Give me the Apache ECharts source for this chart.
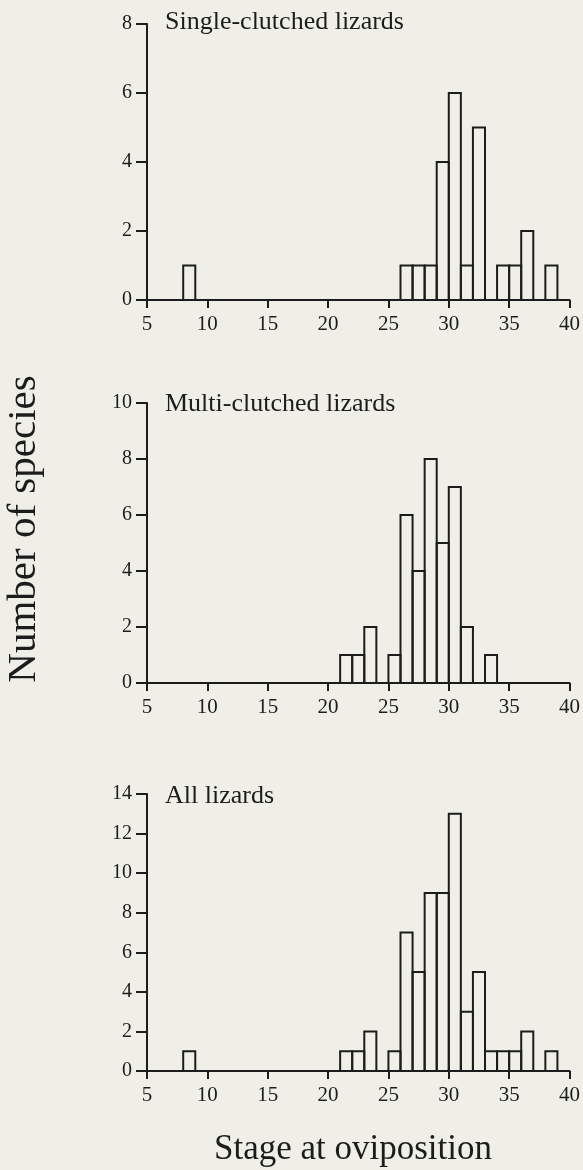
<!DOCTYPE html>
<html>
<head>
<meta charset="utf-8">
<title>Stage at oviposition</title>
<script src="https://cdn.jsdelivr.net/npm/echarts@6/dist/echarts.min.js"></script>
<style>
  html, body { margin: 0; padding: 0; background: #efefe8; }
  #chart { width: 583px; height: 1170px; }
</style>
</head>
<body>
<div id="chart"></div>
<script>
// bin start (stage) and number of species; each bin is 1 stage wide
const singleBins = [8, 26, 27, 28, 29, 30, 31, 32, 34, 35, 36, 38];
const singleCounts = [1, 1, 1, 1, 4, 6, 1, 5, 1, 1, 2, 1];

const multiBins = [21, 22, 23, 25, 26, 27, 28, 29, 30, 31, 33];
const multiCounts = [1, 1, 2, 1, 6, 4, 8, 5, 7, 2, 1];

const allBins = [8, 21, 22, 23, 25, 26, 27, 28, 29, 30, 31, 32, 33, 34, 35, 36, 38];
const allCounts = [1, 1, 1, 2, 1, 7, 5, 9, 9, 13, 3, 5, 1, 1, 1, 2, 1];

const panelTitles = ["Single-clutched lizards", "Multi-clutched lizards", "All lizards"];
const yMax = [8, 10, 14];
const xMin = 5, xMax = 40, xStep = 5;

const ink = "#1c1c1c";
const serif = '"Liberation Serif", "Times New Roman", serif';

// pixel layout of the three panels
const panels = [
  { top: 24, height: 276, titleY: 24 },
  { top: 403, height: 280, titleY: 406 },
  { top: 794, height: 277, titleY: 798 },
];

const chart = echarts.init(document.getElementById("chart"));

function histItem(params, api) {
  const start = api.value(0);
  const count = api.value(1);
  const p0 = api.coord([start, 0]);
  const p1 = api.coord([start + 1, count]);
  return {
    type: "rect",
    shape: { x: p0[0], y: p1[1], width: p1[0] - p0[0], height: p0[1] - p1[1] },
    style: { fill: "transparent", stroke: ink, lineWidth: 2 },
  };
}

const series = [
  [singleBins, singleCounts],
  [multiBins, multiCounts],
  [allBins, allCounts],
].map(([bins, counts], i) => ({
  type: "custom",
  xAxisIndex: i,
  yAxisIndex: i,
  renderItem: histItem,
  encode: { x: 0, y: 1 },
  data: bins.map((b, j) => [b, counts[j]]),
}));

const option = {
  backgroundColor: "#efefe8",
  animation: false,
  grid: panels.map((p) => ({
    left: 147,
    right: 13,
    top: p.top,
    height: p.height,
    containLabel: false,
  })),
  xAxis: panels.map((p, i) => ({
    type: "value",
    gridIndex: i,
    min: xMin,
    max: xMax,
    interval: xStep,
    axisLine: { show: true, lineStyle: { color: ink, width: 2 } },
    axisTick: { show: true, length: 8, lineStyle: { color: ink, width: 2 } },
    axisLabel: { color: ink, fontFamily: serif, fontSize: 21, margin: 14 },
    splitLine: { show: false },
  })),
  yAxis: panels.map((p, i) => ({
    type: "value",
    gridIndex: i,
    min: 0,
    max: yMax[i],
    interval: 2,
    axisLine: { show: true, onZero: false, lineStyle: { color: ink, width: 2 } },
    axisTick: { show: true, length: 11, lineStyle: { color: ink, width: 2 } },
    axisLabel: { color: ink, fontFamily: serif, fontSize: 20, margin: 15 },
    splitLine: { show: false },
  })),
  graphic: [
    ...panels.map((p, i) => ({
      type: "text",
      left: 165,
      top: p.titleY - 15,
      style: {
        text: panelTitles[i],
        fill: ink,
        font: "26px " + serif,
      },
    })),
    {
      type: "text",
      x: 24,
      y: 529,
      rotation: Math.PI / 2,
      style: {
        text: "Number of species",
        fill: ink,
        font: "41px " + serif,
        align: "center",
        verticalAlign: "middle",
      },
    },
    {
      type: "text",
      x: 353,
      y: 1150,
      style: {
        text: "Stage at oviposition",
        fill: ink,
        font: "35px " + serif,
        align: "center",
        verticalAlign: "middle",
      },
    },
  ],
  series: series,
};

chart.setOption(option);
</script>
</body>
</html>
